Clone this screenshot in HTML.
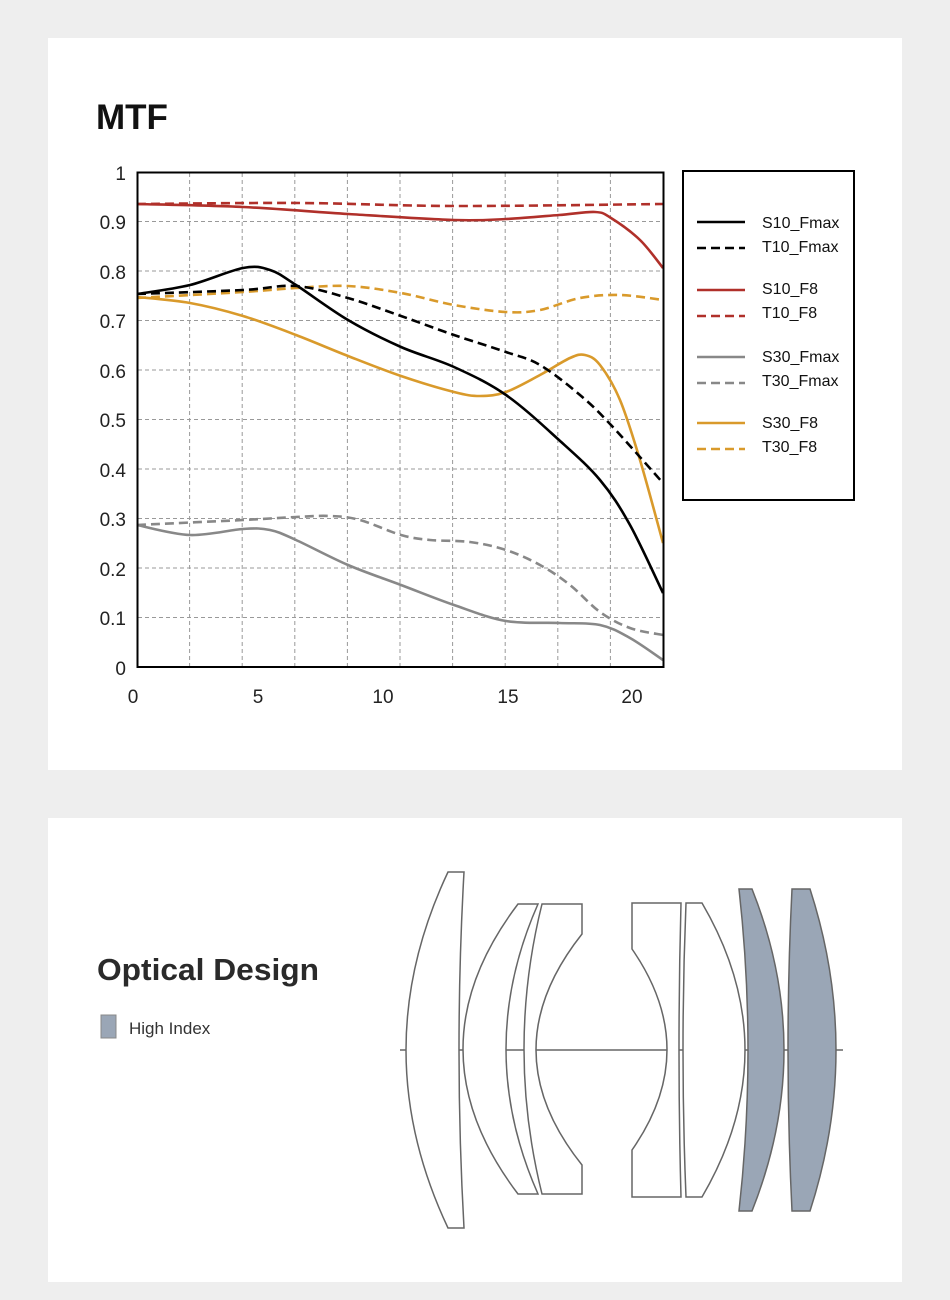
<!DOCTYPE html>
<html><head><meta charset="utf-8"><style>
html,body{margin:0;padding:0;background:#eeeeee;}
body{width:950px;height:1300px;position:relative;overflow:hidden;font-family:"Liberation Sans",sans-serif;}
.card{position:absolute;left:48px;width:854px;background:#fff;}
</style></head><body>
<div class="card" style="top:38px;height:732px"></div>
<div class="card" style="top:818px;height:464px"></div>
<svg width="950" height="1300" style="position:absolute;left:0;top:0" font-family="Liberation Sans, sans-serif">
<text x="96" y="129" font-size="35" font-weight="bold" fill="#111">MTF</text>
<g id="grid" stroke="#999" stroke-width="1" stroke-dasharray="4,3"></g>
<g id="curves" fill="none" stroke-width="2.6"></g>
<rect x="137.5" y="172.5" width="526" height="494.5" fill="none" stroke="#000" stroke-width="2"/>
<g font-size="19" fill="#222" text-anchor="end">
<text x="126" y="180">1</text><text x="126" y="229">0.9</text><text x="126" y="279">0.8</text><text x="126" y="328">0.7</text><text x="126" y="378">0.6</text><text x="126" y="427">0.5</text><text x="126" y="477">0.4</text><text x="126" y="526">0.3</text><text x="126" y="576">0.2</text><text x="126" y="625">0.1</text><text x="126" y="675">0</text>
</g>
<g font-size="19" fill="#222" text-anchor="middle">
<text x="133" y="703">0</text><text x="258" y="703">5</text><text x="383" y="703">10</text><text x="508" y="703">15</text><text x="632" y="703">20</text>
</g>
<rect x="683" y="171" width="171" height="329" fill="none" stroke="#000" stroke-width="2"/>
<g stroke-width="2.6">
<line x1="697" y1="222" x2="745" y2="222" stroke="#000"/>
<line x1="697" y1="248" x2="745" y2="248" stroke="#000" stroke-dasharray="9,5"/>
<line x1="697" y1="290" x2="745" y2="290" stroke="#b0302a"/>
<line x1="697" y1="316" x2="745" y2="316" stroke="#b0302a" stroke-dasharray="9,5"/>
<line x1="697" y1="357" x2="745" y2="357" stroke="#888"/>
<line x1="697" y1="383" x2="745" y2="383" stroke="#888" stroke-dasharray="9,5"/>
<line x1="697" y1="423" x2="745" y2="423" stroke="#d99a2b"/>
<line x1="697" y1="449" x2="745" y2="449" stroke="#d99a2b" stroke-dasharray="9,5"/>
</g>
<g font-size="16" fill="#111">
<text x="762" y="228">S10_Fmax</text><text x="762" y="252">T10_Fmax</text>
<text x="762" y="294">S10_F8</text><text x="762" y="318">T10_F8</text>
<text x="762" y="362">S30_Fmax</text><text x="762" y="386">T30_Fmax</text>
<text x="762" y="428">S30_F8</text><text x="762" y="452">T30_F8</text>
</g>
<text x="97" y="980" font-size="31" font-weight="bold" fill="#2a2a2a" textLength="222" lengthAdjust="spacingAndGlyphs">Optical Design</text>
<rect x="101" y="1015" width="15" height="23" fill="#9aa6b6" stroke="#888"/>
<text x="129" y="1034" font-size="17" fill="#333">High Index</text>
<line x1="400" y1="1050" x2="843" y2="1050" stroke="#666" stroke-width="1.5"/>
<g fill="#fff" stroke="#666" stroke-width="1.5">
<path d="M448,872 L464,872 Q454,1050 464,1228 L448,1228 Q364,1050 448,872 Z"/>
<path d="M518,904 L538,904 Q474,1049 538,1194 L518,1194 Q408,1049 518,904 Z"/>
<path d="M542,904 L582,904 L582,934 Q490,1050 582,1165 L582,1194 L542,1194 Q506,1049 542,904 Z"/>
<path d="M632,903 L681,903 Q677,1050 681,1197 L632,1197 L632,1150 Q702,1050 632,949 Z"/>
<path d="M686,903 L702,903 Q788,1050 702,1197 L686,1197 Q680,1050 686,903 Z"/>
<path fill="#9aa6b6" d="M739,889 L752,889 Q816,1050 752,1211 L739,1211 Q757,1050 739,889 Z"/>
<path fill="#9aa6b6" d="M792,889 L810,889 Q862,1050 810,1211 L792,1211 Q784,1050 792,889 Z"/>
</g>
</svg>
<script>
var g=document.getElementById('grid'),ns='http://www.w3.org/2000/svg';
for(var i=1;i<10;i++){var x=137+i*52.6;var l=document.createElementNS(ns,'line');l.setAttribute('x1',x);l.setAttribute('x2',x);l.setAttribute('y1',173);l.setAttribute('y2',667);g.appendChild(l);}
for(var j=1;j<10;j++){var y=172+j*49.5;var l=document.createElementNS(ns,'line');l.setAttribute('x1',138);l.setAttribute('x2',663);l.setAttribute('y1',y);l.setAttribute('y2',y);g.appendChild(l);}
function cr(p){var d='M'+p[0][0]+','+p[0][1];for(var i=0;i<p.length-1;i++){var p0=p[i-1]||p[i],p1=p[i],p2=p[i+1],p3=p[i+2]||p2;
d+=' C'+(p1[0]+(p2[0]-p0[0])/6)+','+(p1[1]+(p2[1]-p0[1])/6)+' '+(p2[0]-(p3[0]-p1[0])/6)+','+(p2[1]-(p3[1]-p1[1])/6)+' '+p2[0]+','+p2[1];}return d;}
var S=[
['#b0302a',0,[[137,204],[300,203],[454,206],[663,204]]],
['#b0302a',1,[[137,204],[243,207],[348,214],[454,220],[506,219],[559,215],[595,212],[611,218],[640,240],[663,268]]],
['#d99a2b',0,[[137,298],[243,292],[296,288],[348,286],[401,293],[454,305],[506,312],[540,310],[580,298],[620,295],[663,300]]],
['#d99a2b',1,[[137,297],[190,303],[243,316],[296,335],[348,356],[401,376],[454,392],[480,396],[506,392],[540,375],[570,358],[585,355],[600,365],[620,400],[640,460],[663,543]]],
['#888',0,[[137,525],[243,520],[296,517],[330,516],[360,520],[401,535],[430,540],[470,542],[506,550],[540,565],[570,585],[600,612],[630,628],[663,635]]],
['#888',1,[[137,525],[190,535],[243,529],[270,530],[296,540],[348,565],[401,585],[454,605],[506,621],[559,623],[600,625],[630,638],[663,660]]],
['#000',0,[[137,294],[243,290],[296,286],[348,298],[401,316],[454,335],[506,352],[540,365],[580,395],[611,425],[663,483]]],
['#000',1,[[137,294],[190,285],[243,268],[270,270],[296,285],[348,320],[401,347],[454,367],[506,395],[559,440],[600,480],[630,525],[663,593]]]
];
var c=document.getElementById('curves');
S.forEach(function(s){var p=document.createElementNS(ns,'path');p.setAttribute('d',cr(s[2]));p.setAttribute('stroke',s[0]);if(!s[1])p.setAttribute('stroke-dasharray','9,5');c.appendChild(p);});
</script>
</body></html>
